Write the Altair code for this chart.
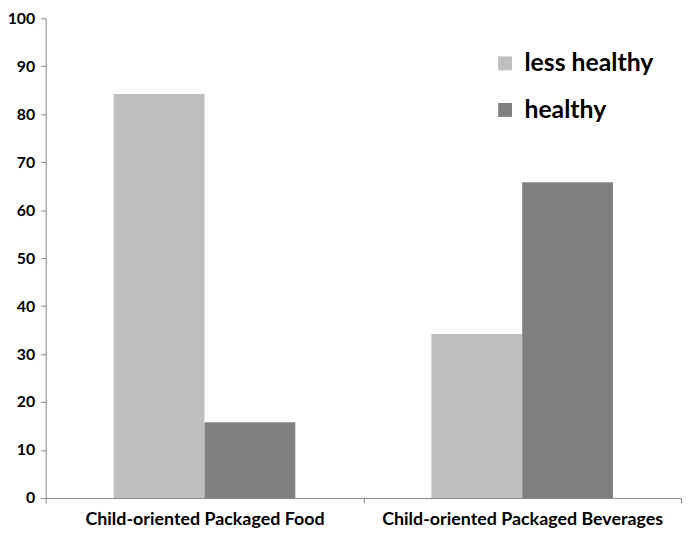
import altair as alt
import pandas as pd

categories = ["Child-oriented Packaged Food", "Child-oriented Packaged Beverages"]
series = ["less healthy", "healthy"]
less_healthy = [84.2, 34.2]
healthy = [15.8, 65.8]
colors = ["#bfbfbf", "#808080"]

rows = []
for i, c in enumerate(categories):
    rows.append({"category": c, "series": series[0], "value": less_healthy[i]})
    rows.append({"category": c, "series": series[1], "value": healthy[i]})
df = pd.DataFrame(rows)

FONT = "Lato"

chart = alt.Chart(df).mark_bar().encode(
    x=alt.X("category:N", sort=categories, title=None,
            scale=alt.Scale(paddingInner=0, paddingOuter=0),
            axis=alt.Axis(labelAngle=0, labelFontSize=18, labelFontWeight="bold",
                          labelColor="black", labelFont=FONT, labelPadding=8,
                          tickBand="extent", tickSize=5, tickColor="#868686",
                          domainColor="#868686", labelLimit=400)),
    xOffset=alt.XOffset("series:N", sort=series,
                        scale=alt.Scale(paddingInner=0, paddingOuter=0.75)),
    y=alt.Y("value:Q", title=None,
            scale=alt.Scale(domain=[0, 100], nice=False),
            axis=alt.Axis(values=list(range(0, 101, 10)), grid=False,
                          labelFontSize=16, labelFontWeight="bold", labelColor="black",
                          labelFont=FONT, tickSize=5, tickColor="#868686",
                          domainColor="#868686", labelPadding=6)),
    color=alt.Color("series:N", sort=series,
                    scale=alt.Scale(domain=series, range=colors),
                    legend=alt.Legend(title=None, orient="none", legendX=451, legendY=33,
                                      symbolType="square", symbolSize=196,
                                      symbolStrokeWidth=0, labelFontSize=25,
                                      labelFontWeight="bold", labelFont=FONT,
                                      labelColor="black", rowPadding=21,
                                      labelOffset=7)),
).properties(
    width=641, height=484,
    autosize=alt.AutoSizeParams(type="none"),
    padding={"left": 38, "top": 8, "right": 2, "bottom": 34},
).configure_view(stroke=None)

chart.save("out.html", embed_options={"renderer": "svg", "actions": False})
